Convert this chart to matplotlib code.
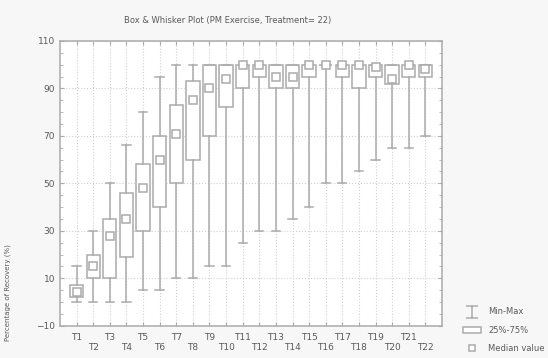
import matplotlib
matplotlib.use("Agg")
import matplotlib.pyplot as plt
from matplotlib.lines import Line2D
from matplotlib.patches import Patch
from matplotlib.path import Path

# treatment sessions and their five-number summaries (percent)
sessions = [f"T{i}" for i in range(1, 23)]
mins    = [0, 0, 0, 0, 5, 5, 10, 10, 15, 15, 25, 30, 30, 35, 40, 50, 50, 55, 60, 65, 65, 70]
q1s     = [2, 10, 10, 19, 30, 40, 50, 60, 70, 82, 90, 95, 90, 90, 95, 100, 95, 90, 95, 92, 95, 95]
medians = [4, 15, 28, 35, 48, 60, 71, 85, 90, 94, 100, 100, 95, 95, 100, 100, 100, 100, 99, 94, 100, 98]
q3s     = [7, 20, 35, 46, 58, 70, 83, 93, 100, 100, 100, 100, 100, 100, 100, 100, 100, 100, 100, 100, 100, 100]
maxs    = [15, 30, 50, 66, 80, 95, 100, 100, 100, 100, 100, 100, 100, 100, 100, 100, 100, 100, 100, 100, 100, 100]

line_c = "#ababab"
text_c = "#5a5a5a"

fig = plt.figure(figsize=(5.48, 3.58), dpi=100, facecolor="#f7f7f7")
ax = fig.add_axes([0.1095, 0.0902, 0.697, 0.7953])
ax.set_facecolor("white")

stats = [dict(whislo=lo, q1=a, med=m, q3=b, whishi=hi)
         for lo, a, m, b, hi in zip(mins, q1s, medians, q3s, maxs)]
pos = list(range(1, len(sessions) + 1))

ax.bxp(stats, positions=pos, widths=0.8, patch_artist=True, showfliers=False,
       boxprops=dict(facecolor="white", edgecolor=line_c, linewidth=1.1),
       whiskerprops=dict(color=line_c, linewidth=1.1),
       capprops=dict(color=line_c, linewidth=1.1),
       medianprops=dict(linewidth=0), capwidths=0.5, zorder=3)
ax.plot(pos, medians, linestyle="none", marker="s", markersize=5.5,
        markerfacecolor="white", markeredgecolor=line_c, markeredgewidth=1.1, zorder=4)

ax.set_xlim(0, 23)
ax.set_ylim(-10, 110)
ax.set_yticks(range(-10, 111, 20))
ax.set_yticks(range(-10, 111, 5), minor=True)
ax.set_xticks(pos)
ax.set_xticklabels([s if i % 2 == 0 else "\n" + s for i, s in enumerate(sessions)])
ax.tick_params(axis="both", which="both", direction="in", color=line_c,
               labelcolor=text_c, labelsize=6.5, top=True, right=True)
ax.tick_params(which="major", length=3)
ax.tick_params(which="minor", length=2)
ax.tick_params(axis="x", pad=5)
ax.grid(True, which="major", linestyle=":", color="#d0d0d0", linewidth=0.8, zorder=0)
ax.set_axisbelow(True)
for sp in ax.spines.values():
    sp.set_color(line_c)
    sp.set_linewidth(1.1)

fig.text(228 / 548, 1 - 20 / 358, "Box & Whisker Plot (PM Exercise, Treatment= 22)",
         ha="center", va="center", fontsize=6, color=text_c)
fig.text(8 / 548, 1 - 244 / 358, "Percentage of Recovery (%)", rotation=90,
         ha="center", va="top", fontsize=5, color=text_c)

# I-beam marker for the min-max whisker entry
ibeam = Path([(-1, 1), (1, 1), (0, 1), (0, -1), (-1, -1), (1, -1)],
             [Path.MOVETO, Path.LINETO, Path.MOVETO, Path.LINETO, Path.MOVETO, Path.LINETO])
handles = [
    Line2D([], [], linestyle="none", marker=ibeam, markersize=9,
           markeredgecolor=line_c, markerfacecolor="none", markeredgewidth=1.1),
    Patch(facecolor="white", edgecolor=line_c, linewidth=1.1),
    Line2D([], [], linestyle="none", marker="s", markersize=4,
           markerfacecolor="white", markeredgecolor=line_c, markeredgewidth=1.1),
]
leg = fig.legend(handles, ["Min-Max", "25%-75%", "Median value"],
                 loc="upper left", bbox_to_anchor=(455 / 548, 1 - 300 / 358),
                 frameon=False, fontsize=6, labelcolor=text_c,
                 handlelength=2.2, handletextpad=0.9, labelspacing=1.1)

fig.savefig("out.png", dpi=100, facecolor=fig.get_facecolor())
